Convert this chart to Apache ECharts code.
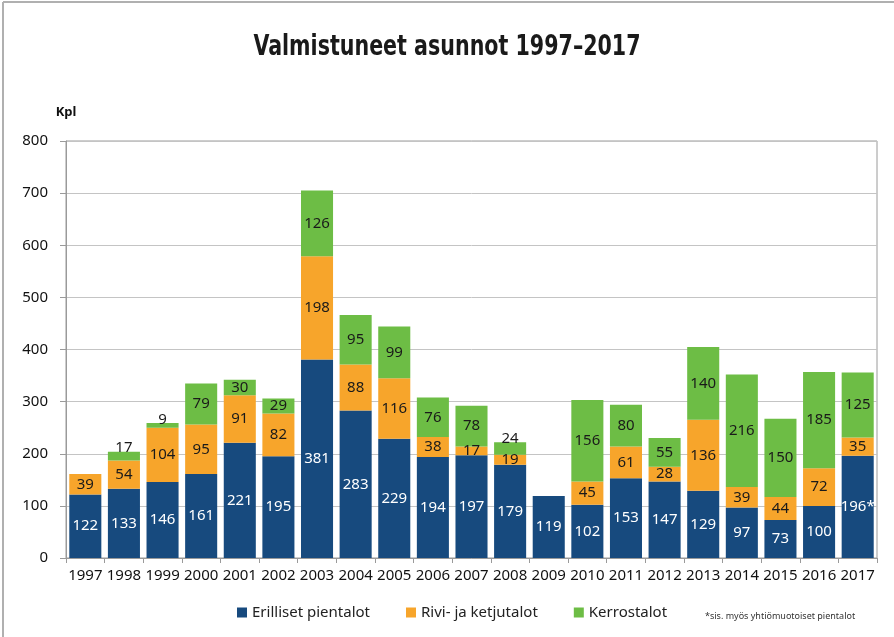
<!DOCTYPE html>
<html>
<head>
<meta charset="utf-8">
<script src="https://cdn.jsdelivr.net/npm/echarts@6/dist/echarts.min.js"></script>
<style>
  html, body { margin: 0; padding: 0; background: #fff; }
  #chart { width: 894px; height: 637px; }
</style>
</head>
<body>
<div id="chart"></div>
<script>
// vuodet ja sarjat
const years = ['1997','1998','1999','2000','2001','2002','2003','2004','2005','2006','2007',
               '2008','2009','2010','2011','2012','2013','2014','2015','2016','2017'];
const erilliset = [122,133,146,161,221,195,381,283,229,194,197,179,119,102,153,147,129,97,73,100,196];
const rivi = [39,54,104,95,91,82,198,88,116,38,17,19,null,45,61,28,136,39,44,72,35];
const kerros = [null,17,9,79,30,29,126,95,99,76,78,24,null,156,80,55,140,216,150,185,125];
const yTicks = [0,100,200,300,400,500,600,700,800];

const colors = ['#174a7e', '#f7a52b', '#6dbd45'];
const labelFont = 'Noto Sans';

const chart = echarts.init(document.getElementById('chart'));

// pienet kerrostalo-arvot näytetään palkin yläpuolella
const kerrosData = kerros.map(v => (v !== null && v < 25)
  ? { value: v, label: { position: 'top', distance: -4 } }
  : v);

chart.setOption({
  animation: false,
  grid: { left: 66, right: 17, top: 141, bottom: 79, show: true, borderColor: '#9a9a9a', borderWidth: 1 },
  legend: {
    bottom: 12,
    left: 232,
    itemWidth: 10,
    itemHeight: 10,
    itemGap: 36,
    icon: 'rect',
    textStyle: { fontFamily: labelFont, fontSize: 15, color: '#222' },
    data: ['Erilliset pientalot', 'Rivi- ja ketjutalot', 'Kerrostalot']
  },
  xAxis: {
    type: 'category',
    data: years,
    axisLine: { lineStyle: { color: '#9a9a9a' } },
    axisTick: { show: true, length: 5, lineStyle: { color: '#9a9a9a' } },
    axisLabel: { interval: 0, fontFamily: labelFont, fontSize: 15, color: '#111', margin: 10 }
  },
  yAxis: {
    type: 'value',
    min: yTicks[0],
    max: yTicks[yTicks.length - 1],
    interval: 100,
    name: 'Kpl',
    nameLocation: 'end',
    nameGap: 22,
    nameTextStyle: { fontFamily: labelFont, fontSize: 13, fontWeight: 'bold', color: '#111', align: 'center' },
    axisLine: { show: true, lineStyle: { color: '#9a9a9a' } },
    axisTick: { show: true, length: 6, lineStyle: { color: '#9a9a9a' } },
    axisLabel: { fontFamily: labelFont, fontSize: 15, color: '#111', margin: 18 },
    splitLine: { lineStyle: { color: '#c4c4c4' } }
  },
  series: [
    {
      name: 'Erilliset pientalot',
      type: 'bar',
      stack: 'total',
      barCategoryGap: '17%',
      data: erilliset,
      itemStyle: { color: colors[0] },
      label: {
        show: true,
        position: 'inside',
        color: '#fff',
        fontFamily: labelFont,
        fontSize: 15,
        formatter: p => p.name === '2017' ? p.value + '*' : p.value
      }
    },
    {
      name: 'Rivi- ja ketjutalot',
      type: 'bar',
      stack: 'total',
      data: rivi,
      itemStyle: { color: colors[1] },
      label: { show: true, position: 'inside', color: '#1a1a1a', fontFamily: labelFont, fontSize: 15 }
    },
    {
      name: 'Kerrostalot',
      type: 'bar',
      stack: 'total',
      data: kerrosData,
      itemStyle: { color: colors[2] },
      label: { show: true, position: 'inside', color: '#1a1a1a', fontFamily: labelFont, fontSize: 15 }
    }
  ],
  graphic: [
    { type: 'line', shape: { x1: 3, y1: 2, x2: 894, y2: 2 }, style: { stroke: '#b0b0b0', lineWidth: 2 } },
    { type: 'line', shape: { x1: 3, y1: 2, x2: 3, y2: 637 }, style: { stroke: '#b0b0b0', lineWidth: 2 } },
    {
      // otsikko kapeammalla fontilla
      type: 'text',
      x: 447,
      y: 47,
      scaleX: 0.79,
      style: {
        text: 'Valmistuneet asunnot 1997–2017',
        textAlign: 'center',
        textVerticalAlign: 'middle',
        fontFamily: 'DejaVu Sans Condensed, sans-serif',
        fontSize: 29,
        fontWeight: 'bold',
        fill: '#1a1a1a'
      }
    },
    {
      type: 'text',
      left: 705,
      top: 612,
      style: { text: '*sis. myös yhtiömuotoiset pientalot', fontFamily: labelFont, fontSize: 9, fill: '#333' }
    }
  ]
});
</script>
</body>
</html>
